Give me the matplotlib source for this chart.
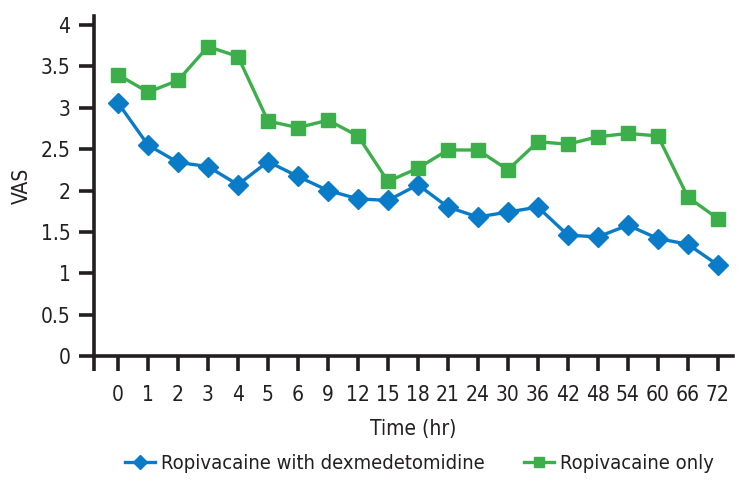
import numpy as np
import matplotlib
matplotlib.use('Agg')
import matplotlib.pyplot as plt

# data
time_labels = ['0', '1', '2', '3', '4', '5', '6', '9', '12', '15', '18',
               '21', '24', '30', '36', '42', '48', '54', '60', '66', '72']
vas_dex = [3.06, 2.55, 2.34, 2.29, 2.07, 2.35, 2.17, 2.00, 1.90, 1.88, 2.07,
           1.80, 1.68, 1.74, 1.80, 1.46, 1.44, 1.58, 1.42, 1.35, 1.10]
vas_ropi = [3.40, 3.19, 3.33, 3.74, 3.62, 2.84, 2.76, 2.85, 2.66, 2.11, 2.27,
            2.49, 2.49, 2.25, 2.59, 2.56, 2.65, 2.69, 2.66, 1.92, 1.66]

# narrow font, like the original
plt.rcParams['font.family'] = ['DejaVu Sans']
plt.rcParams['font.stretch'] = 'condensed'

blue = '#0a7bc6'
green = '#3caf4a'
dark = '#231f20'

fig = plt.figure(figsize=(7.49, 4.84), dpi=100)
ax = fig.add_axes([0.1255, 0.2645, 0.853, 0.7025])

x = np.arange(len(time_labels))
ax.plot(x, vas_dex, color=blue, lw=2.4, marker='D', ms=10, mec=blue,
        label='Ropivacaine with dexmedetomidine')
ax.plot(x, vas_ropi, color=green, lw=2.4, marker='s', ms=10, mec=green,
        label='Ropivacaine only')

ax.set_xlim(-0.8, 20.5)
ax.set_ylim(0, 4.11)
ax.set_yticks(np.arange(0, 4.01, 0.5))
ax.set_yticklabels(['0', '0.5', '1', '1.5', '2', '2.5', '3', '3.5', '4'])
ax.set_xticks(x)
ax.set_xticklabels(time_labels)
ax.set_xticks([-0.8], minor=True)

for s in ['top', 'right']:
    ax.spines[s].set_visible(False)
for s in ['left', 'bottom']:
    ax.spines[s].set_linewidth(2.6)
    ax.spines[s].set_color(dark)
ax.tick_params(which='both', direction='out', length=11, width=2.6,
               color=dark, labelsize=15, labelcolor=dark, pad=6)
ax.tick_params(axis='x', pad=10)

ax.set_xlabel('Time (hr)', fontsize=15, color=dark, labelpad=10)
ax.set_ylabel('VAS', fontsize=15, color=dark, labelpad=6)

leg = fig.legend(loc='center', bbox_to_anchor=(0.560, 0.043), ncol=2, frameon=False,
                 fontsize=14.5, handlelength=1.5, columnspacing=1.95, markerscale=0.7,
                 handletextpad=0.3)
for t in leg.get_texts():
    t.set_color(dark)

fig.savefig('out.png', dpi=100)
